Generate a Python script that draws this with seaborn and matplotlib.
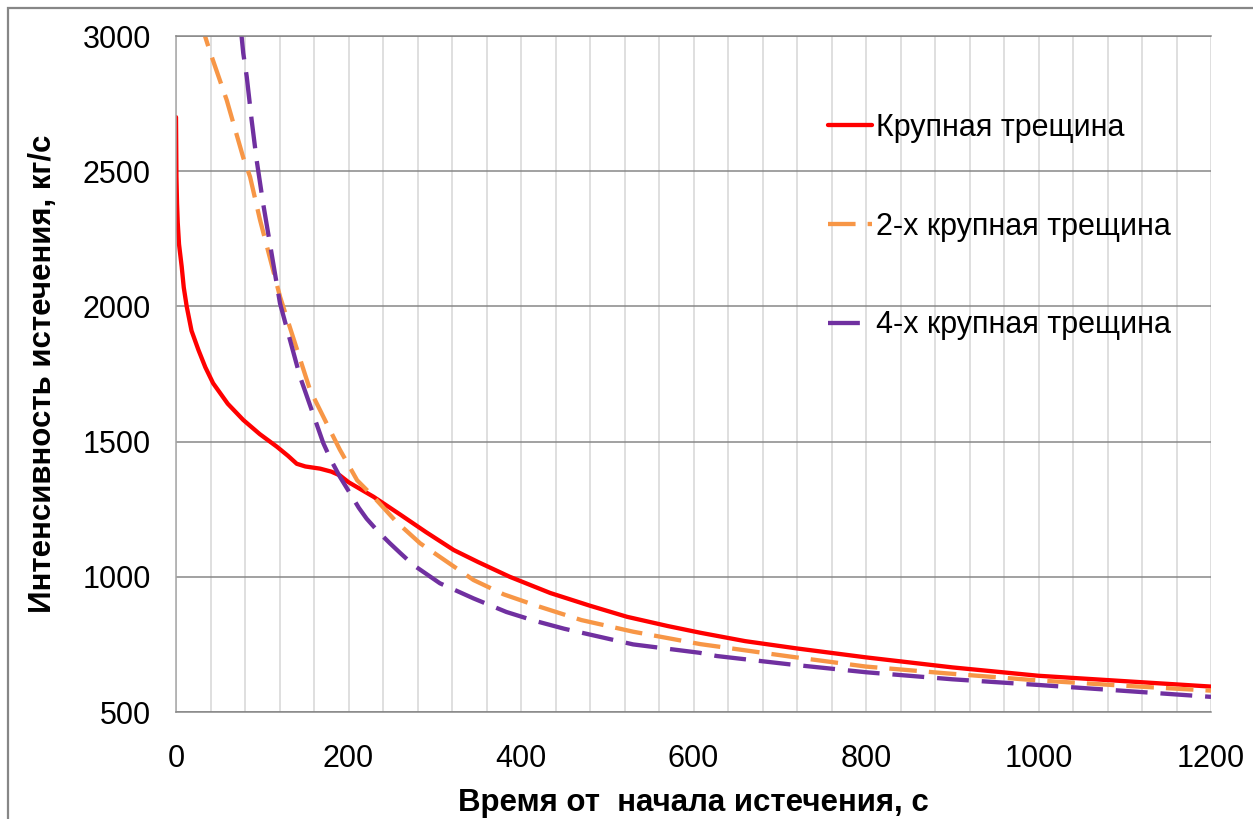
import numpy as np
import pandas as pd
import matplotlib
matplotlib.use("Agg")
import matplotlib.pyplot as plt
from matplotlib.ticker import MultipleLocator
from matplotlib.patches import Rectangle
import seaborn as sns

# Flow rate vs. time for three break sizes
t_single = [0, 0.5, 1.2, 2, 3.5, 6.6, 9, 12.4, 18, 26, 34, 43, 60, 78, 97, 117, 130, 140,
            150, 167, 180, 190, 200, 215, 229, 260, 290, 322, 350, 387, 434, 480, 523,
            570, 608, 660, 720, 800, 900, 1000, 1100, 1200]
g_single = [2700, 2480, 2380, 2310, 2230, 2147, 2070, 2000, 1910, 1839, 1775, 1716, 1640,
            1580, 1528, 1481, 1447, 1418, 1408, 1400, 1389, 1375, 1350, 1322, 1296, 1230,
            1165, 1099, 1055, 1000, 940, 893, 852, 818, 793, 762, 735, 702, 665, 634, 614, 594]

t_double = [28, 33.6, 39.4, 58.8, 78, 85.8, 97.4, 120.6, 155.4, 175, 190, 210, 229, 255,
            283, 345, 380, 418, 470, 530, 608, 712, 800, 893, 994, 1100, 1200]
g_double = [3060, 3000, 2942, 2763, 2550, 2480, 2320, 2036, 1691, 1565, 1470, 1357, 1296,
            1205, 1124, 988, 935, 893, 840, 797, 751, 705, 668, 643, 618, 597, 579]

t_quad = [74, 76, 78, 82, 87.7, 93.5, 101, 120.6, 143.8, 170.8, 180, 190, 201.7, 212, 221,
          235, 248, 260, 275, 306, 345, 383, 415, 450, 530, 607, 627, 712, 800, 900, 1000,
          1100, 1200]
g_quad = [3030, 3000, 2936, 2850, 2689, 2541, 2381, 2011, 1740, 1494, 1430, 1370, 1309,
          1255, 1215, 1165, 1124, 1088, 1044, 976, 920, 870, 838, 808, 750, 719, 707, 676,
          647, 621, 600, 578, 556]

names = ["Крупная трещина", "2-х крупная трещина", "4-х крупная трещина"]
colors = ["#FF0000", "#F79646", "#7030A0"]
dash_patterns = ["", (6.4, 2.8), (7.4, 3.0)]

df = pd.concat([
    pd.DataFrame({"t": t_single, "g": g_single, "series": names[0]}),
    pd.DataFrame({"t": t_double, "g": g_double, "series": names[1]}),
    pd.DataFrame({"t": t_quad, "g": g_quad, "series": names[2]}),
], ignore_index=True)

sns.set_style("white")
plt.rcParams["font.family"] = ["Liberation Sans", "DejaVu Sans"]
plt.rcParams["text.color"] = "black"
plt.rcParams["axes.labelcolor"] = "black"

fig = plt.figure(figsize=(12.53, 8.19), dpi=100)
ax = fig.add_axes([176 / 1253, 1 - 712 / 819, (1211 - 176) / 1253, (712 - 36) / 819])

sns.lineplot(data=df, x="t", y="g", hue="series", style="series",
             palette=dict(zip(names, colors)), dashes=dict(zip(names, dash_patterns)),
             hue_order=names, style_order=names, sort=False, estimator=None,
             linewidth=3.1, ax=ax, legend=True)

ax.set_xlim(0, 1200)
ax.set_ylim(500, 3000)
ax.xaxis.set_major_locator(MultipleLocator(200))
ax.xaxis.set_minor_locator(MultipleLocator(40))
ax.yaxis.set_major_locator(MultipleLocator(500))

ax.grid(False)
ax.xaxis.grid(True, which="both", color="#D9D9D9", linewidth=1.2)
ax.yaxis.grid(True, which="major", color="#878787", linewidth=1.1)
ax.set_axisbelow(True)

ax.spines["right"].set_visible(False)
ax.spines["top"].set_color("#878787")
ax.spines["top"].set_linewidth(1.1)
ax.spines["bottom"].set_color("#878787")
ax.spines["bottom"].set_linewidth(1.1)
ax.spines["left"].set_color("#A6A6A6")
ax.spines["left"].set_linewidth(1.1)

ax.tick_params(axis="both", which="major", direction="out", length=7, width=1.0,
               color="#878787", labelsize=22, labelcolor="black")
ax.tick_params(axis="x", which="major", pad=16)
ax.tick_params(axis="y", which="major", pad=11)
ax.tick_params(axis="x", which="minor", length=0)

ax.set_xlabel("Время от  начала истечения, с", fontsize=22.5, fontweight="bold", labelpad=10)
ax.set_ylabel("Интенсивность истечения, кг/с", fontsize=22.5, fontweight="bold", labelpad=18)

handles, labels = ax.get_legend_handles_labels()
ax.legend(handles, labels, loc="upper left",
          bbox_to_anchor=(828 / 1253, 1 - 113 / 819), bbox_transform=fig.transFigure,
          frameon=False, fontsize=22, handlelength=1.45, handletextpad=0.13,
          labelspacing=2.25, borderpad=0, borderaxespad=0)

# outer frame along the top and left edges
fig.patches.append(Rectangle((8 / 1253, -0.01), 1.02, 1 - 8 / 819 + 0.01,
                             transform=fig.transFigure, fill=False,
                             edgecolor="#878787", linewidth=1.6))

fig.savefig("out.png", dpi=100)
